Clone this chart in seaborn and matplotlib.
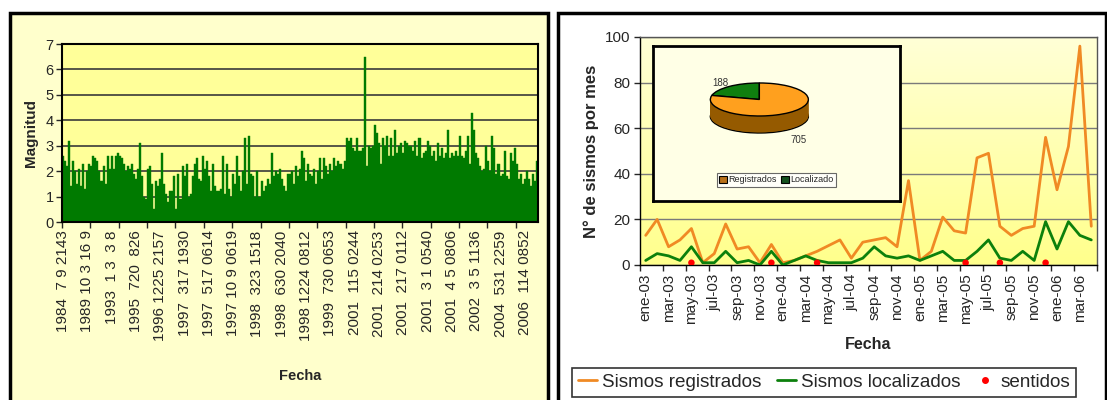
import numpy as np
import matplotlib
matplotlib.use("Agg")
import matplotlib.pyplot as plt
import seaborn as sns
from matplotlib.patches import Rectangle, Patch
from matplotlib.lines import Line2D
from matplotlib.colors import LinearSegmentedColormap

# --- left chart: magnitude of each recorded event ---
magnitudes = [
    2.6, 2.4, 2.2, 3.2, 1.4, 2.4, 2.0, 1.5, 2.1, 1.4,
    2.3, 1.3, 2.0, 2.3, 2.2, 2.6, 2.5, 2.4, 2.0, 1.6,
    2.2, 1.5, 2.6, 2.1, 2.6, 2.1, 2.6, 2.7, 2.6, 2.5,
    2.3, 2.0, 2.2, 2.1, 2.3, 1.9, 1.7, 2.1, 3.1, 1.8,
    1.0, 0.9, 2.1, 2.2, 1.5, 0.5, 1.6, 1.4, 1.7, 2.7,
    1.5, 1.1, 0.8, 1.2, 1.2, 1.8, 0.5, 1.9, 0.9, 2.2,
    1.8, 2.3, 1.0, 1.1, 1.8, 2.3, 2.5, 1.7, 1.6, 2.6,
    2.1, 2.4, 1.8, 1.2, 2.3, 1.4, 1.2, 1.2, 1.3, 2.6,
    1.1, 2.3, 1.3, 1.0, 1.9, 1.5, 2.6, 1.8, 1.2, 2.0,
    3.3, 1.5, 3.4, 1.9, 1.8, 1.0, 2.0, 1.0, 1.6, 1.2,
    1.4, 1.7, 1.5, 2.7, 1.8, 2.0, 1.9, 2.1, 1.7, 1.4,
    1.2, 1.9, 1.9, 2.0, 1.5, 2.2, 1.8, 2.1, 2.8, 2.5,
    1.6, 2.3, 1.9, 1.8, 2.1, 1.5, 2.0, 2.5, 1.7, 2.5,
    2.2, 1.9, 2.3, 2.0, 2.5, 2.2, 2.4, 2.3, 2.1, 2.4,
    3.3, 3.2, 3.3, 2.9, 2.8, 3.3, 2.8, 2.8, 2.9, 6.5,
    2.2, 3.0, 2.9, 3.0, 3.8, 3.5, 3.1, 2.3, 3.3, 3.0,
    3.4, 2.6, 3.3, 2.6, 3.6, 2.7, 3.0, 3.1, 2.7, 3.2,
    3.1, 3.0, 3.0, 2.8, 3.2, 2.6, 3.3, 2.5, 2.7, 2.8,
    3.2, 3.0, 2.6, 2.8, 2.4, 3.1, 2.6, 2.9, 2.5, 2.7,
    3.6, 2.5, 2.7, 2.6, 2.8, 2.6, 3.4, 2.6, 2.5, 2.8,
    3.4, 2.3, 4.3, 3.6, 2.7, 2.5, 2.2, 2.0, 2.1, 3.0,
    2.4, 2.0, 3.4, 2.9, 1.9, 2.3, 1.8, 1.9, 2.8, 1.8,
    1.7, 2.7, 2.4, 2.9, 2.3, 1.7, 1.9, 1.5, 1.7, 2.0,
    1.7, 1.4, 1.9, 1.6, 2.4,
]
fecha_labels = [
    "1984  7 9 2143", "1989 10 3 16 9", "1993  1 3  3 8", "1995  720  826",
    "1996 1225 2157", "1997  317 1930", "1997  517 0614", "1997 10 9 0619",
    "1998  323 1518", "1998  630 2040", "1998 1224 0812", "1999  730 0653",
    "2001  115 0244", "2001  214 0253", "2001  217 0112", "2001  3 1 0540",
    "2001  4 5 0806", "2002  3 5 1136", "2004  531 2259", "2006  114 0852",
]

# --- right chart: earthquakes per month ---
meses = [
    "ene-03", "feb-03", "mar-03", "abr-03", "may-03", "jun-03", "jul-03", "ago-03",
    "sep-03", "oct-03", "nov-03", "dic-03", "ene-04", "feb-04", "mar-04", "abr-04",
    "may-04", "jun-04", "jul-04", "ago-04", "sep-04", "oct-04", "nov-04", "dic-04",
    "ene-05", "feb-05", "mar-05", "abr-05", "may-05", "jun-05", "jul-05", "ago-05",
    "sep-05", "oct-05", "nov-05", "dic-05", "ene-06", "feb-06", "mar-06", "abr-06",
]
registrados = [13, 20, 8, 11, 16, 1, 5, 18, 7, 8, 1, 9, 1, 2, 4, 6, 8.5, 11, 3, 10,
               11, 12, 8, 37, 2, 6, 21, 15, 14, 47, 49, 17, 13, 16, 17, 56, 33, 52, 96, 17]
localizados = [2, 5, 4, 2, 8, 1, 1, 6, 1, 2, 0, 6, 0, 2, 4, 2, 1, 1, 1, 3,
               8, 4, 3, 4, 2, 4, 6, 2, 2, 6, 11, 3, 2, 6, 2, 19, 7, 19, 13, 11]
sentidos_meses = ["may-03", "dic-03", "abr-04", "may-05", "ago-05", "dic-05"]
sentidos_valor = [1, 1, 1, 1, 1, 1]

# --- inset pie ---
pie_labels = ["Registrados", "Localizado"]
pie_values = [705, 188]

sns.set_style("white")
plt.rcParams['font.family'] = ['Liberation Sans', 'DejaVu Sans']

W, H = 1107, 400
fig = plt.figure(figsize=(W / 100, H / 100), dpi=100)
fig.patch.set_facecolor("white")


def fx(px):
    return px / W


def fy(py):
    return 1 - py / H


# panel boxes
fig.patches.append(Rectangle((fx(10), fy(402)), fx(538), fy(13) - fy(402), transform=fig.transFigure,
                             facecolor="#FFFFCC", edgecolor="black", lw=2.5, zorder=-5))
fig.patches.append(Rectangle((fx(558), fy(402)), fx(548), fy(13) - fy(402), transform=fig.transFigure,
                             facecolor="white", edgecolor="black", lw=2.5, zorder=-5))

# ---------------- left chart ----------------
ax1 = fig.add_axes([fx(62), fy(222), fx(538 - 62), fy(44) - fy(222)])
ax1.set_facecolor("#FFFF99")
n = len(magnitudes)
sns.barplot(x=np.arange(n), y=magnitudes, color="#007A00", saturation=1, width=1.0,
            edgecolor="#007A00", linewidth=0.3, ax=ax1, zorder=2)
ax1.set_xlim(-0.5, n - 0.5)
ax1.set_ylim(0, 7)
ax1.set_yticks(range(0, 8))
ax1.yaxis.grid(True, color="#3a3a3a", lw=1.2)
ax1.set_axisbelow(True)
step = 12
ax1.set_xticks(np.arange(0, step * len(fecha_labels), step))
ax1.set_xticklabels(fecha_labels, rotation=90, fontsize=11)
ax1.set_xticks(np.arange(-0.5, n, 14), minor=True)
ax1.tick_params(axis="x", which="major", length=0, pad=6)
ax1.tick_params(axis="x", which="minor", length=4, width=1, direction="out", bottom=True)
ax1.tick_params(axis="y", length=4, width=1, direction="out", left=True, labelsize=10.5, pad=2)
for s in ax1.spines.values():
    s.set_color("black")
    s.set_linewidth(1.5)
ax1.set_ylabel("Magnitud", fontsize=11, fontweight="bold", labelpad=5)
ax1.set_xlabel("Fecha", fontsize=10.5, fontweight="bold", labelpad=20)

# ---------------- right chart ----------------
ax2 = fig.add_axes([fx(640), fy(265), fx(1097 - 640), fy(37) - fy(265)])
pos = np.arange(len(meses))
grad = LinearSegmentedColormap.from_list("g", ["#FFFF8C", "#FFFFD6"])
ax2.imshow(np.linspace(0, 1, 100).reshape(-1, 1), extent=(-0.5, len(meses) - 0.5, 0, 100),
           aspect="auto", cmap=grad, origin="lower", zorder=0)
sns.lineplot(x=pos, y=registrados, color="#F08A24", lw=2, ax=ax2, zorder=3)
sns.lineplot(x=pos, y=localizados, color="#0C800C", lw=2, ax=ax2, zorder=4)
sentidos_pos = [meses.index(m) for m in sentidos_meses]
sns.scatterplot(x=sentidos_pos, y=sentidos_valor, color="#FF0000", s=22, edgecolor="none",
                ax=ax2, zorder=5)
ax2.set_xlim(-0.5, len(meses) - 0.5)
ax2.set_ylim(0, 100)
ax2.set_yticks(range(0, 101, 20))
ax2.yaxis.grid(True, color="#7a7a7a", lw=1)
ax2.set_axisbelow(True)
ax2.set_xticks(pos[::2])
ax2.set_xticklabels(meses[::2], rotation=90, fontsize=11)
ax2.set_xticks(np.arange(-0.5, len(meses), 2), minor=True)
ax2.tick_params(axis="x", which="major", length=0, pad=6)
ax2.tick_params(axis="x", which="minor", length=4, width=1, direction="out", bottom=True)
ax2.tick_params(axis="y", length=4, width=1, direction="out", left=True, labelsize=11, pad=3)
for s in ax2.spines.values():
    s.set_color("#555555")
    s.set_linewidth(1)
ax2.spines["bottom"].set_color("black")
ax2.spines["left"].set_color("black")
ax2.set_ylabel("N° de sismos por mes", fontsize=12, fontweight="bold", labelpad=4)
ax2.set_xlabel("Fecha", fontsize=11.5, fontweight="bold", labelpad=9)

handles = [Line2D([], [], color="#F08A24", lw=2),
           Line2D([], [], color="#0C800C", lw=2),
           Line2D([], [], color="#FF0000", marker="o", ls="", markersize=4)]
leg = fig.legend(handles, ["Sismos registrados", "Sismos localizados", "sentidos"],
                 loc="upper left", bbox_to_anchor=(fx(572), fy(368)), ncol=3, fontsize=13.6,
                 frameon=True, fancybox=False, edgecolor="black", handlelength=1.0,
                 handletextpad=0.3, columnspacing=0.8, borderaxespad=0, borderpad=0.3)
leg.get_frame().set_linewidth(1.2)

# ---------------- inset pie ----------------
axp = fig.add_axes([fx(653), fy(201), fx(900 - 653), fy(46) - fy(201)])
axp.set_zorder(6)
axp.set_facecolor("#FFFFE6")
for s in axp.spines.values():
    s.set_color("black")
    s.set_linewidth(2)
axp.set_xticks([])
axp.set_yticks([])

vals = pie_values[::-1]  # green slice first, counter-clockwise from the top
depth = 1.03
layers = np.linspace(depth, 0, 30)
side_cols = ["#14501E", "#955A00"]
top_cols = ["#0F7F0F", "#FFA01E"]
for k, d in enumerate(layers[:-1]):
    edge = "black" if k == 0 else "none"
    axp.pie(vals, colors=side_cols, startangle=90, counterclock=True, center=(0, -d),
            wedgeprops=dict(edgecolor=edge, linewidth=1.0))
axp.pie(vals, colors=top_cols, startangle=90, counterclock=True, center=(0, 0),
        wedgeprops=dict(edgecolor="black", linewidth=1.0))
axp.set_aspect("auto")
axp.set_xlim(-2.17, 2.87)
axp.set_ylim(-6.15, 3.24)
axp.set_frame_on(True)

total = sum(vals)
ang0 = 90
for v, extra in zip(vals, [0, depth]):
    mid = np.deg2rad(ang0 + 360 * v / total / 2)
    axp.text(1.3 * np.cos(mid), 1.3 * np.sin(mid) - extra - 0.4 * (extra > 0), str(v),
             fontsize=7, color="#333333", ha="center", va="center")
    ang0 += 360 * v / total

pie_handles = [Patch(facecolor="#B8701A", edgecolor="black", lw=0.8),
               Patch(facecolor="#14501E", edgecolor="black", lw=0.8)]
pl = axp.legend(pie_handles, pie_labels, loc="lower center", bbox_to_anchor=(0.5, 0.06), ncol=2,
                fontsize=6.5, frameon=True, fancybox=False, edgecolor="#444444",
                handlelength=0.8, handleheight=0.8, handletextpad=0.2, columnspacing=0.5,
                borderpad=0.3)
pl.get_frame().set_linewidth(0.8)

fig.savefig("out.png", dpi=100)
